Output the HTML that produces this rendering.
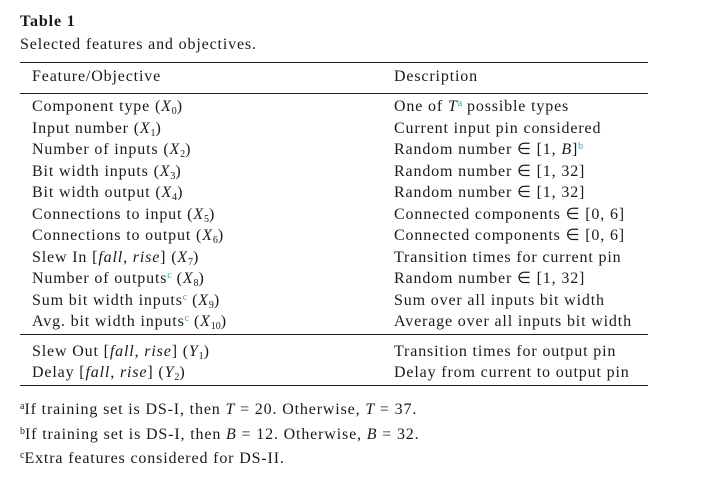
<!DOCTYPE html>
<html><head><meta charset="utf-8"><style>
body{margin:0;width:706px;height:483px;background:#fff;font-family:"Liberation Serif",serif;color:#1a1a1a;position:relative;overflow:hidden}
.t{position:absolute;font-size:16px;letter-spacing:0.85px;white-space:nowrap;line-height:1}
.l{position:absolute;left:20px;width:628px;background:#222}
i{font-style:italic}
sub{font-size:10px;vertical-align:-3px;letter-spacing:0}
sup{font-size:10px;vertical-align:5px;color:#2a9fd6;letter-spacing:0}
sup.k{color:#1a1a1a}
</style></head><body>
<div class="t" style="left:20px;top:14px;font-weight:bold">Table 1</div>
<div class="t" style="left:20px;top:37px">Selected features and objectives.</div>
<div class="l" style="top:62px;height:1.3px"></div>
<div class="t" style="left:32px;top:69px">Feature/Objective</div>
<div class="t" style="left:394px;top:69px">Description</div>
<div class="l" style="top:93px;height:1px"></div>
<div>
<div class="t" style="left:32px;top:99px">Component type (<i>X</i><sub>0</sub>)</div><div class="t" style="left:394px;top:99px">One of <i>T</i><sup>a</sup> possible types</div>
<div class="t" style="left:32px;top:121px">Input number (<i>X</i><sub>1</sub>)</div><div class="t" style="left:394px;top:121px">Current input pin considered</div>
<div class="t" style="left:32px;top:142px">Number of inputs (<i>X</i><sub>2</sub>)</div><div class="t" style="left:394px;top:142px">Random number ∈ [1, <i>B</i>]<sup>b</sup></div>
<div class="t" style="left:32px;top:164px">Bit width inputs (<i>X</i><sub>3</sub>)</div><div class="t" style="left:394px;top:164px">Random number ∈ [1, 32]</div>
<div class="t" style="left:32px;top:185px">Bit width output (<i>X</i><sub>4</sub>)</div><div class="t" style="left:394px;top:185px">Random number ∈ [1, 32]</div>
<div class="t" style="left:32px;top:207px">Connections to input (<i>X</i><sub>5</sub>)</div><div class="t" style="left:394px;top:207px">Connected components ∈ [0, 6]</div>
<div class="t" style="left:32px;top:228px">Connections to output (<i>X</i><sub>6</sub>)</div><div class="t" style="left:394px;top:228px">Connected components ∈ [0, 6]</div>
<div class="t" style="left:32px;top:250px">Slew In [<i>fall</i>, <i>rise</i>] (<i>X</i><sub>7</sub>)</div><div class="t" style="left:394px;top:250px">Transition times for current pin</div>
<div class="t" style="left:32px;top:271px">Number of outputs<sup>c</sup> (<i>X</i><sub>8</sub>)</div><div class="t" style="left:394px;top:271px">Random number ∈ [1, 32]</div>
<div class="t" style="left:32px;top:293px">Sum bit width inputs<sup>c</sup> (<i>X</i><sub>9</sub>)</div><div class="t" style="left:394px;top:293px">Sum over all inputs bit width</div>
<div class="t" style="left:32px;top:314px">Avg. bit width inputs<sup>c</sup> (<i>X</i><sub>10</sub>)</div><div class="t" style="left:394px;top:314px">Average over all inputs bit width</div>
</div>
<div class="l" style="top:334px;height:1px"></div>
<div>
<div class="t" style="left:32px;top:344px">Slew Out [<i>fall</i>, <i>rise</i>] (<i>Y</i><sub>1</sub>)</div><div class="t" style="left:394px;top:344px">Transition times for output pin</div>
<div class="t" style="left:32px;top:365px">Delay [<i>fall</i>, <i>rise</i>] (<i>Y</i><sub>2</sub>)</div><div class="t" style="left:394px;top:365px">Delay from current to output pin</div>
</div>
<div class="l" style="top:385px;height:1.3px"></div>
<div class="t" style="left:20px;top:402px"><sup class="k">a</sup>If training set is DS-I, then <i>T</i> = 20. Otherwise, <i>T</i> = 37.</div>
<div class="t" style="left:20px;top:427px"><sup class="k">b</sup>If training set is DS-I, then <i>B</i> = 12. Otherwise, <i>B</i> = 32.</div>
<div class="t" style="left:20px;top:451px"><sup class="k">c</sup>Extra features considered for DS-II.</div>
</body></html>
